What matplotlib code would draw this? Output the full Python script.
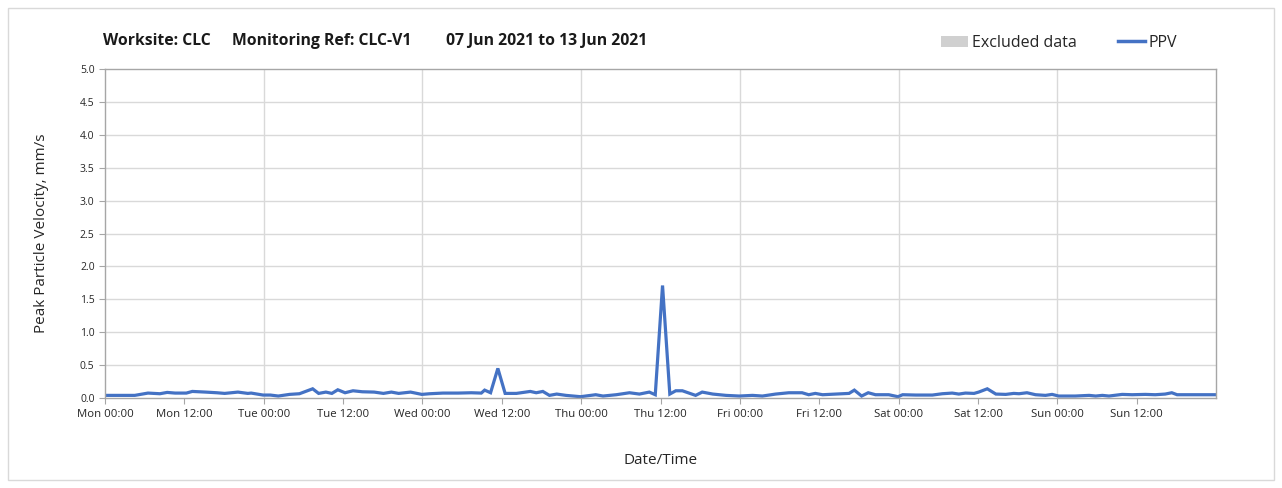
import matplotlib
matplotlib.use("Agg")
import matplotlib.pyplot as plt
from matplotlib.patches import Rectangle
from matplotlib.lines import Line2D

plt.rcParams['font.family'] = ['Open Sans', 'DejaVu Sans']

# Hours since Mon 00:00
hours = [0, 4.5, 6.5, 8.3, 9.4, 10.6, 12.3, 13.2, 15.2, 16.9, 18.1, 20.1, 21.6, 22.1, 23.9,
         25.0, 26.2, 27.9, 29.4, 31.4, 32.3, 33.4, 34.3, 35.2, 36.3, 37.5, 38.9, 40.7, 42.1,
         43.3, 44.4, 46.2, 47.9, 49.1, 51.1, 53.4, 55.4, 56.9, 57.4, 58.3, 59.4, 60.5,
         62.2, 64.3, 65.2, 66.2, 67.2, 68.3, 69.7, 71.9, 74.2, 75.3, 77.3, 79.3, 80.8, 82.3,
         83.2, 84.3, 85.4, 86.3, 87.3, 89.3, 90.3, 91.9, 93.9, 95.9, 97.9, 99.4, 101.4,
         103.4, 105.4, 106.4, 107.4, 108.5, 112.5, 113.3, 114.4, 115.4, 116.5, 118.5, 119.9,
         120.6, 122.6, 125.1, 126.6, 128.1, 129.1, 130.1, 131.4, 132.1, 133.4, 134.7, 136.2,
         137.4, 138.2, 139.4, 140.7, 142.2, 143.2, 144.2, 146.7, 148.8, 149.8, 150.8, 151.8,
         153.8, 155.3, 157.3, 158.8, 160.3, 161.3, 162.1, 163.9, 167.6, 168]
ppv = [0.04, 0.04, 0.075, 0.065, 0.085, 0.075, 0.075, 0.10, 0.09, 0.08, 0.07, 0.09, 0.07, 0.075, 0.045,
       0.045, 0.03, 0.055, 0.065, 0.14, 0.07, 0.09, 0.07, 0.125, 0.08, 0.11, 0.095, 0.09, 0.07,
       0.09, 0.07, 0.09, 0.055, 0.065, 0.075, 0.075, 0.08, 0.075, 0.12, 0.08, 0.45, 0.07,
       0.07, 0.10, 0.08, 0.10, 0.04, 0.06, 0.04, 0.02, 0.05, 0.03, 0.05, 0.08, 0.06, 0.09,
       0.05, 1.71, 0.06, 0.11, 0.11, 0.04, 0.09, 0.06, 0.04, 0.03, 0.04, 0.03, 0.06,
       0.08, 0.08, 0.05, 0.07, 0.05, 0.07, 0.12, 0.03, 0.08, 0.05, 0.05, 0.02,
       0.05, 0.045, 0.045, 0.065, 0.075, 0.06, 0.075, 0.07, 0.09, 0.14, 0.06, 0.055,
       0.07, 0.065, 0.08, 0.05, 0.04, 0.055, 0.03, 0.03, 0.04, 0.03, 0.04, 0.03,
       0.055, 0.05, 0.055, 0.05, 0.06, 0.08, 0.05, 0.05, 0.05, 0.05]

tick_hours = list(range(0, 168, 12))
tick_labels = ['Mon 00:00', 'Mon 12:00', 'Tue 00:00', 'Tue 12:00', 'Wed 00:00', 'Wed 12:00',
               'Thu 00:00', 'Thu 12:00', 'Fri 00:00', 'Fri 12:00', 'Sat 00:00', 'Sat 12:00',
               'Sun 00:00', 'Sun 12:00']
y_ticks = [0.0, 0.5, 1.0, 1.5, 2.0, 2.5, 3.0, 3.5, 4.0, 4.5, 5.0]

title_parts = ["Worksite: CLC", "Monitoring Ref: CLC-V1", "07 Jun 2021 to 13 Jun 2021"]
title_x_px = [103, 232, 446]
line_color = '#4472C4'

W, H = 1282, 488
fig = plt.figure(figsize=(W / 100, H / 100), dpi=100)
fig.patches.append(Rectangle((0.006, 0.016), 0.988, 0.968, transform=fig.transFigure,
                             fill=False, edgecolor='#d9d9d9', linewidth=1.0))

ax = fig.add_axes([0.0819, 0.1844, 0.8667, 0.6742])
ax.plot(hours, ppv, color=line_color, linewidth=2.3, solid_joinstyle='miter')
ax.set_xlim(0, 168)
ax.set_ylim(0, 5.0)

ax.set_xticks(tick_hours)
ax.set_xticklabels(tick_labels, fontsize=8.2)
ax.set_yticks(y_ticks)
ax.set_yticklabels([f"{v:.1f}" for v in y_ticks], fontsize=7.5)

ax.grid(False)
for h in range(24, 168, 24):
    ax.axvline(h, color='#d9d9d9', linewidth=1.0, zorder=0)
for v in y_ticks[1:-1]:
    ax.axhline(v, color='#d9d9d9', linewidth=1.0, zorder=0)

for s in ax.spines.values():
    s.set_color('#a6a6a6')
    s.set_linewidth(1.0)
ax.tick_params(axis='both', which='both', color='#a6a6a6', length=4, direction='out',
               labelcolor='#262626')
ax.tick_params(axis='x', pad=4)

ax.set_xlabel('Date/Time', fontsize=11, color='#262626', labelpad=24)
ax.set_ylabel('Peak Particle Velocity, mm/s', fontsize=11, color='#262626', labelpad=22)

for txt, xp in zip(title_parts, title_x_px):
    fig.text(xp / W, 1 - 41 / H, txt, fontsize=11.3, fontweight='bold', color='#1a1a1a',
             va='center', ha='left')

handles = [Rectangle((0, 0), 1, 1, facecolor='#d0d0d0', edgecolor='none'),
           Line2D([0], [0], color=line_color, linewidth=2.5)]
leg = fig.legend(handles, ['Excluded data', 'PPV'], loc='center', ncol=2,
                 bbox_to_anchor=(0.826, 0.912), frameon=False, fontsize=11.5,
                 handlelength=1.7, handletextpad=0.2, columnspacing=2.6)
for t in leg.get_texts():
    t.set_color('#262626')

fig.savefig('out.png', dpi=100)
